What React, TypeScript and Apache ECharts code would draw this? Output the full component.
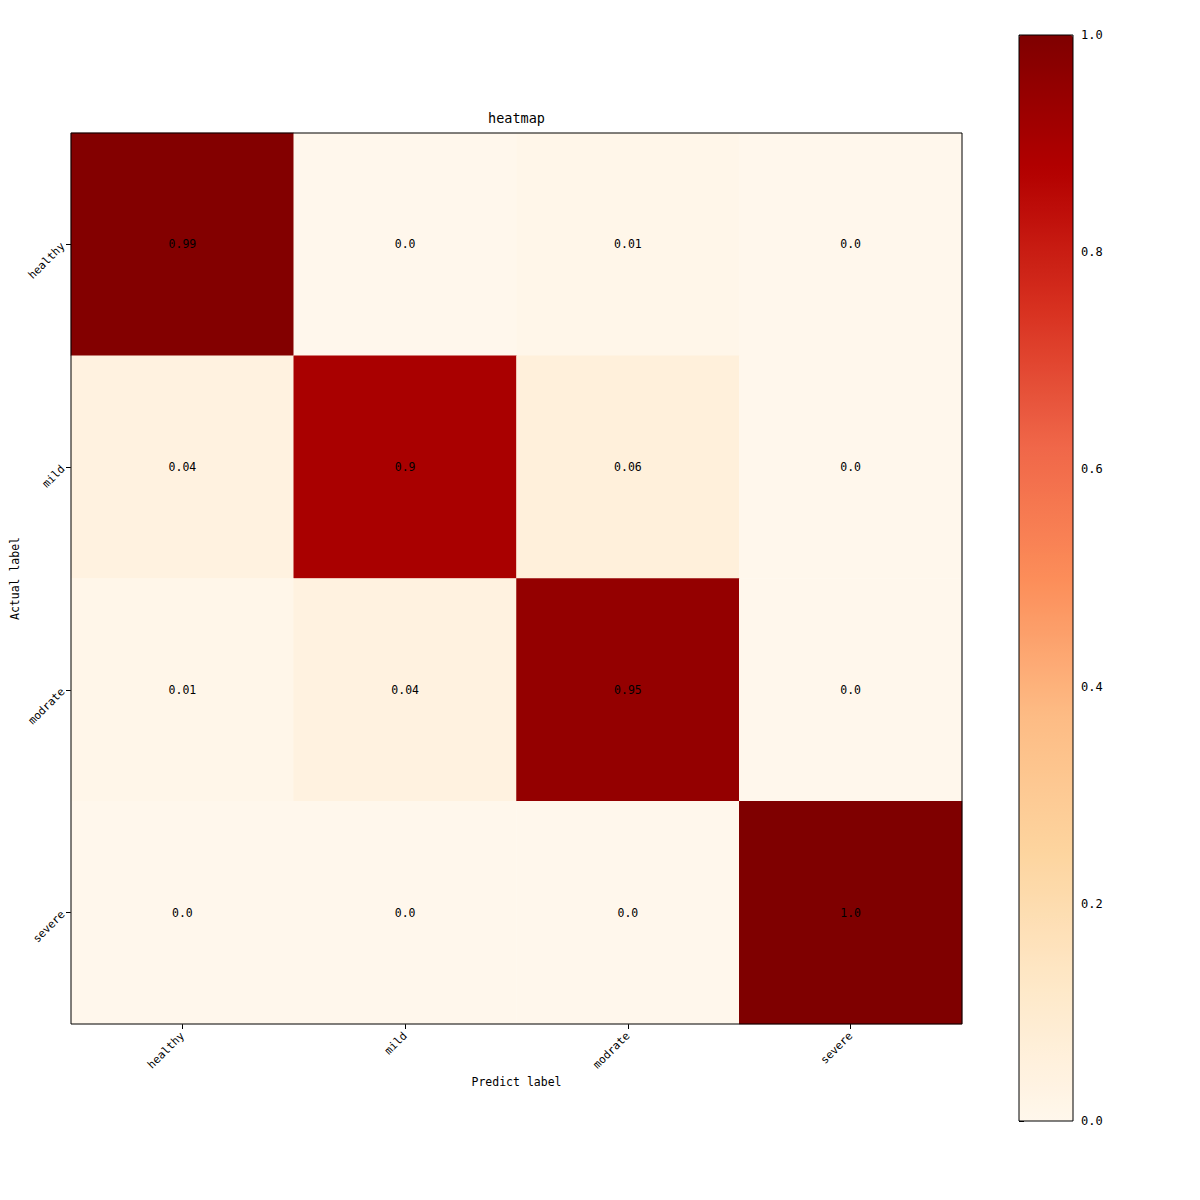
import React, { useEffect, useRef } from "react";
import * as echarts from "echarts";

const categories = ["healthy", "mild", "modrate", "severe"];
// rows = actual, cols = predicted
const matrix = [
  [0.99, 0.0, 0.01, 0.0],
  [0.04, 0.9, 0.06, 0.0],
  [0.01, 0.04, 0.95, 0.0],
  [0.0, 0.0, 0.0, 1.0],
];
const colorbarTicks = [0, 0.2, 0.4, 0.6, 0.8, 1.0];
const orRd = ["#fff7ec", "#fee8c8", "#fdd49e", "#fdbb84", "#fc8d59", "#ef6548", "#d7301f", "#b30000", "#7f0000"];

const FONT = "DejaVu Sans Mono";

export default function App() {
  const ref = useRef<HTMLDivElement>(null);
  useEffect(() => {
    document.body.style.margin = "0";
    const chart = echarts.init(ref.current!, null, { renderer: "svg" });
    const data: any[] = [];
    matrix.forEach((row, r) => row.forEach((v, c) => data.push([c, r, v])));
    const G = { left: 71, top: 133, width: 891, height: 891 };
    const CB = { left: 1019, top: 35, width: 54, height: 1086 };
    chart.setOption({
      animation: false,
      backgroundColor: "#fff",
      textStyle: { fontFamily: FONT },
      title: {
        text: "heatmap",
        left: G.left + G.width / 2,
        textAlign: "center",
        top: 111,
        padding: 0,
        textStyle: { fontFamily: FONT, fontSize: 13.5, fontWeight: "normal", color: "#000" },
      },
      grid: [
        { ...G, outerBoundsMode: "none", containLabel: false },
        { ...CB, outerBoundsMode: "none", containLabel: false },
      ],
      xAxis: [
        {
          type: "category",
          gridIndex: 0,
          data: categories,
          position: "bottom",
          name: "Predict label",
          nameLocation: "middle",
          nameGap: 52,
          nameMoveOverlap: false,
          nameTextStyle: { fontFamily: FONT, fontSize: 11.5, color: "#000" },
          axisLine: { show: false },
          axisTick: { show: true, alignWithLabel: true, length: 5, lineStyle: { color: "#000" } },
          axisLabel: { rotate: 45, margin: 10, fontFamily: FONT, fontSize: 11, color: "#000" },
          splitLine: { show: false },
        },
        {
          type: "value",
          gridIndex: 1,
          show: false,
          min: 0,
          max: 1,
          axisLine: { show: false },
          axisTick: { show: false },
          axisLabel: { show: false },
          splitLine: { show: false },
        },
      ],
      yAxis: [
        {
          type: "category",
          gridIndex: 0,
          data: categories,
          inverse: true,
          name: "Actual label",
          nameLocation: "middle",
          nameGap: 50,
          nameMoveOverlap: false,
          nameRotate: 90,
          nameTextStyle: { fontFamily: FONT, fontSize: 11.5, color: "#000" },
          axisLine: { show: false },
          axisTick: { show: true, alignWithLabel: true, length: 5, lineStyle: { color: "#000" } },
          axisLabel: { rotate: 45, margin: 8, fontFamily: FONT, fontSize: 11, color: "#000" },
          splitLine: { show: false },
        },
        {
          type: "value",
          gridIndex: 1,
          position: "right",
          min: colorbarTicks[0],
          max: colorbarTicks[colorbarTicks.length - 1],
          interval: 0.2,
          axisLine: { show: false },
          axisTick: { show: true, length: 5, lineStyle: { color: "#000" } },
          axisLabel: {
            margin: 8,
            fontFamily: FONT,
            fontSize: 12,
            color: "#000",
            formatter: (v: number) => v.toFixed(1),
          },
          splitLine: { show: false },
        },
      ],
      visualMap: {
        type: "continuous",
        min: 0,
        max: 1,
        seriesIndex: 0,
        calculable: false,
        hoverLink: false,
        indicatorSize: 0,
        orient: "vertical",
        left: CB.left,
        top: CB.top,
        itemWidth: CB.width,
        itemHeight: CB.height,
        padding: 0,
        inRange: { color: orRd },
        z: 4,
      },
      series: [
        {
          type: "heatmap",
          xAxisIndex: 0,
          yAxisIndex: 0,
          data,
          label: {
            show: true,
            color: "#000",
            fontFamily: FONT,
            fontSize: 11.5,
            formatter: (p: any) => {
              const v = p.value[2];
              return Math.round(v * 100) % 10 === 0 ? v.toFixed(1) : String(v);
            },
          },
          itemStyle: { borderWidth: 0 },
          emphasis: { disabled: true },
        },
      ],
      graphic: [
        {
          type: "rect",
          z: 100,
          shape: { x: G.left, y: G.top, width: G.width, height: G.height },
          style: { fill: "none", stroke: "#000", lineWidth: 1 },
          silent: true,
        },
        {
          type: "rect",
          z: 100,
          shape: { x: CB.left, y: CB.top, width: CB.width, height: CB.height },
          style: { fill: "none", stroke: "#000", lineWidth: 1 },
          silent: true,
        },
      ],
    });
    return () => chart.dispose();
  }, []);
  return <div ref={ref} style={{ width: 1200, height: 1200 }} />;
}
